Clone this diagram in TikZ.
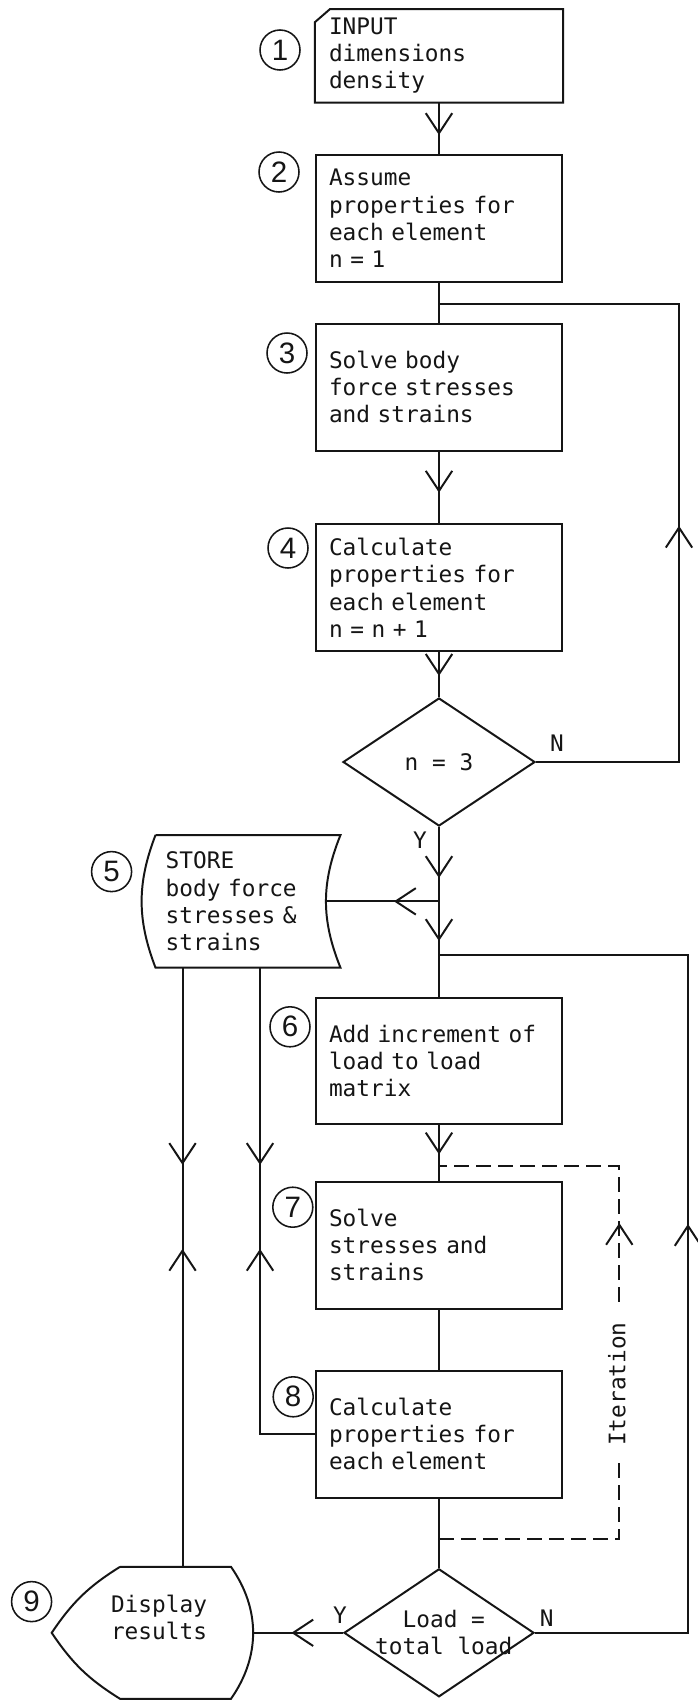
\documentclass[tikz,border=0pt]{standalone}
\usepackage{fontspec}
\setmonofont{DejaVu Sans Mono}
\newfontfamily\numfont{Liberation Sans}
\usetikzlibrary{positioning, shapes.geometric, arrows.meta, calc, decorations.markings}
\definecolor{ink}{HTML}{151515}

\begin{document}
\begin{tikzpicture}[color=ink, line width=1.4pt,
  >={Straight Barb[length=5mm, width=6.6mm]},
  txt/.style={font=\ttfamily\fontsize{16.2pt}{19.3pt}\selectfont},
  proc/.style={txt, draw, minimum width=6.16cm, minimum height=3.17cm, text width=5.5cm,
               inner xsep=0.33cm, align=left},
  card/.style={proc, draw=none, minimum height=2.29cm},
  decision/.style={diamond, draw, inner sep=0pt, minimum width=4.8cm, minimum height=3.2cm},
  num/.style={circle, draw, line width=1.1pt, minimum size=1cm, inner sep=0pt,
              font=\numfont\fontsize{21pt}{21pt}\selectfont},
  iter/.style={dash pattern=on 3.75mm off 1.75mm},
  arrat/.style={postaction={decorate, decoration={markings, mark=at position #1 with {\arrow{>}}}}},
  arrback/.style={postaction={decorate, decoration={markings, mark=at position #1 with {\arrowreversed{>}}}}}
]
  \useasboundingbox[fill=white] (0,0) rectangle (17.425,-42.575);

  \node[card] (b1) at (10.975,-1.396) {INPUT\\dimensions\\density};
  \draw (b1.south west) -- ($(b1.north west)+(0,-0.33)$) -- ($(b1.north west)+(0.38,0)$)
        -- (b1.north east) -- (b1.south east) -- cycle;
  \node[proc] (b2) at (10.975,-5.459) {Assume\\properties for\\each element\\n = 1};
  \node[proc] (b3) at (10.975,-9.681) {Solve body\\force stresses\\and strains};
  \node[proc] (b4) at (10.975,-14.696) {Calculate\\properties for\\each element\\n = n + 1};
  \node[decision] (d1) at (10.975,-19.05) {};
  \node[txt] (d1t) at (d1) {n = 3};
  \node[proc] (b6) at (10.975,-26.525) {Add increment of\\load to load\\matrix};
  \node[proc] (b7) at (10.975,-31.128) {Solve\\stresses and\\strains};
  \node[proc] (b8) at (10.975,-35.856) {Calculate\\properties for\\each element};
  \node[decision, minimum width=4.75cm] (d2) at (10.975,-40.82) {};
  \node[txt, align=center] (d2t) at ([xshift=0.12cm]d2.center) {Load =\\total load};

  \node[txt, minimum width=4.575cm, minimum height=3.2675cm, text width=4.115cm,
        inner xsep=0.23cm, align=left] (st) at (6.2,-22.534) {STORE\\body force\\stresses \&\\strains};
  \draw (st.north west) -- (st.north east) to[bend right=22] (st.south east)
        -- (st.south west) to[bend left=21] (st.north west);

  \node[minimum width=2.725cm, minimum height=3.25cm, inner sep=0pt] (dsp) at (4.3875,-40.82) {};
  \coordinate (dtip) at (1.2925,-40.82);
  \draw (dsp.north west) -- (dsp.north east) to[bend left=35] (dsp.south east)
        -- (dsp.south west) to[bend left=12] (dtip) to[bend left=12] (dsp.north west);
  \node[txt, align=center] (dspt) at (3.975,-40.44) {Display\\results};

  \foreach \n/\x/\y in {1/7.0/-1.25, 2/6.975/-4.3, 3/7.175/-8.825, 4/7.2/-13.7, 5/2.79/-21.79,
                        6/7.25/-25.67, 7/7.32/-30.18, 8/7.33/-34.92, 9/0.79/-40.04}
    \node[num] (c\n) at (\x,\y) {\n};

  \node[txt] (n1) at (13.925,-18.575) {N};
  \node[txt] (y1) at (10.5,-21.0) {Y};
  \node[txt] (y2) at (8.5,-40.375) {Y};
  \node[txt] (n2) at (13.67,-40.45) {N};

  \coordinate (j1) at (10.975,-7.6);
  \coordinate (j2) at (st.east -| d1.south);
  \coordinate (j3) at (10.975,-23.875);
  \coordinate (j4) at (10.975,-29.15);
  \coordinate (j5) at (10.975,-38.4825);
  \coordinate (stin) at ($(st.east)+(-0.36,0)$);
  \coordinate (dspin) at ($(dsp.east)+(0.547,0)$);
  \coordinate (sa) at ($(st.south west)+(0.675,0)$);
  \coordinate (sb) at ($(st.south west)+(2.6125,0)$);

  \draw[arrat=-0.475cm] (b1.south) -- (b2.north);
  \draw (b2.south) -- (b3.north);
  \draw[arrat=-0.77cm] (b3.south) -- (b4.north);
  \draw[arrat=-0.53cm] (b4.south) -- (d1.north);
  \draw[arrat=1.275cm, arrat=2.85cm] (d1.south) -- (b6.north);
  \draw[arrat=1.125cm] (j2) -- (stin);
  \draw[arrat=0.725cm] (b6.south) -- (b7.north);
  \draw (b7.south) -- (b8.north);
  \draw (b8.south) -- (d2.north);
  \draw[arrat=1.29cm] (d2.west) -- (dspin);

  \draw[arrat=9.48cm] (d1.east) -| ($(j1)+(6,0)$) -- (j1);
  \draw[arrat=14.045cm] (d2.east) -| ($(j3)+(6.225,0)$) -- (j3);
  \draw[iter, arrat=12.415cm] (j5) -| ($(j4)+(4.5075,0)$) -- (j4);
  \node[txt, rotate=90, fill=white, inner xsep=0.42cm, inner ysep=0.05cm] (it) at (15.42,-34.6) {Iteration};

  \draw[arrat=4.93cm, arrback=7.03cm] (sa) -- (sa |- dsp.north);
  \draw[arrat=4.93cm, arrback=7.03cm] (sb) |- (b8.west);
\end{tikzpicture}
\end{document}
